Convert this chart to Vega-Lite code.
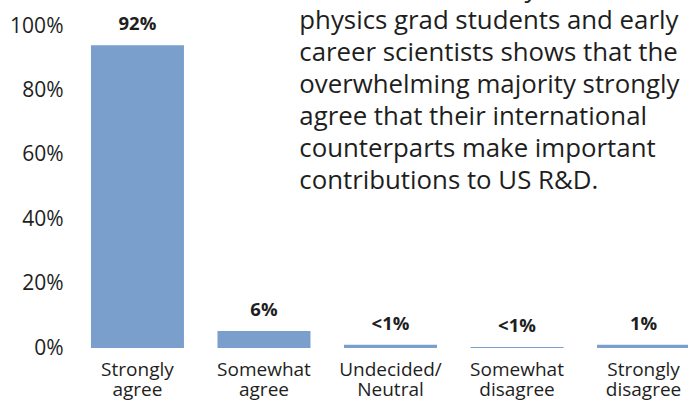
{
  "$schema": "https://vega.github.io/schema/vega-lite/v6.json",
  "width": 633,
  "height": 322,
  "autosize": {"type": "none"},
  "padding": {"left": 74, "top": 26, "right": 0, "bottom": 52},
  "config": {"view": {"stroke": null}, "font": "Open Sans"},
  "layer": [
    {
      "data": {"values": [
        {"response": "Strongly agree", "share": 94, "label": "92%"},
        {"response": "Somewhat agree", "share": 5.3, "label": "6%"},
        {"response": "Undecided/Neutral", "share": 1, "label": "<1%"},
        {"response": "Somewhat disagree", "share": 0.3, "label": "<1%"},
        {"response": "Strongly disagree", "share": 1, "label": "1%"}
      ]},
      "encoding": {
        "x": {
          "field": "response", "type": "nominal",
          "scale": {"domain": ["Strongly agree", "Somewhat agree", "Undecided/Neutral", "Somewhat disagree", "Strongly disagree"], "paddingInner": 0.265, "paddingOuter": 0.134},
          "axis": {
            "title": null, "labelAngle": 0, "domain": false, "ticks": false,
            "labelFontSize": 19, "labelLineHeight": 20, "labelPadding": 12,
            "labelColor": "#1e1e1e",
            "labelExpr": "datum.value == 'Undecided/Neutral' ? ['Undecided/', 'Neutral'] : split(datum.value, ' ')"
          }
        },
        "y": {
          "field": "share", "type": "quantitative",
          "scale": {"domain": [0, 100]},
          "axis": {
            "title": null, "values": [0, 20, 40, 60, 80, 100], "domain": false,
            "ticks": false, "grid": false, "labelFontSize": 21, "labelPadding": 11,
            "labelColor": "#1e1e1e", "labelExpr": "datum.value + '%'"
          }
        }
      },
      "layer": [
        {"mark": {"type": "bar", "color": "#7A9FCC"}},
        {
          "mark": {"type": "text", "baseline": "bottom", "dy": -11, "fontSize": 18.5, "fontWeight": "bold", "color": "#1e1e1e"},
          "encoding": {"text": {"field": "label"}}
        }
      ]
    },
    {
      "data": {"values": [
        {"anchor": "Somewhat agree", "level": 108.9, "note": ["A recent APS survey of", "physics grad students and early", "career scientists shows that the", "overwhelming majority strongly", "agree that their international", "counterparts make important", "contributions to US R&D."]}
      ]},
      "mark": {"type": "text", "align": "left", "baseline": "alphabetic", "fontSize": 25.8, "lineHeight": 32, "color": "#1e1e1e"},
      "encoding": {
        "x": {"field": "anchor", "type": "nominal", "bandPosition": 0.88},
        "y": {"field": "level", "type": "quantitative"},
        "text": {"field": "note"}
      }
    }
  ]
}
